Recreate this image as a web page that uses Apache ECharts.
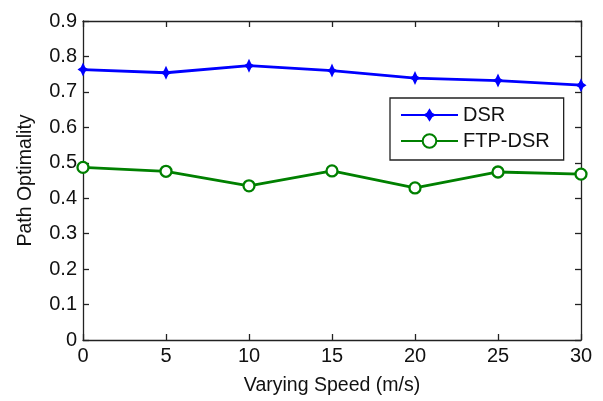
<!DOCTYPE html>
<html>
<head>
<meta charset="utf-8">
<script src="https://cdn.jsdelivr.net/npm/echarts@6/dist/echarts.min.js"></script>
<style>
html,body{margin:0;padding:0;background:#fff;}
#chart{width:603px;height:401px;}
</style>
</head>
<body>
<div id="chart"></div>
<script>
// Speeds (m/s) on the x axis
const speeds = [0, 5, 10, 15, 20, 25, 30];
// Path optimality per protocol
const dsr = [0.763, 0.754, 0.774, 0.760, 0.739, 0.732, 0.719];
const ftpDsr = [0.487, 0.476, 0.435, 0.477, 0.429, 0.474, 0.468];
const seriesNames = ['DSR', 'FTP-DSR'];

const font = 'Liberation Sans, Arial, sans-serif';
const star = 'path://M0,-10 L3.2,-3.2 L8,0 L3.2,3.2 L0,10 L-3.2,3.2 L-8,0 L-3.2,-3.2 Z';

const pairs = ys => speeds.map((x, i) => [x, ys[i]]);

const chart = echarts.init(document.getElementById('chart'));
const axisLine = { show: true, onZero: false, lineStyle: { color: '#222', width: 1.3 } };
const tickIn = { show: true, inside: true, length: 6, lineStyle: { color: '#222', width: 1.3 } };

chart.setOption({
  animation: false,
  backgroundColor: '#fff',
  grid: { left: 83, top: 21, right: 22, bottom: 59 },
  legend: {
    orient: 'vertical',
    left: 390,
    top: 98,
    padding: [7, 14, 9, 10],
    borderColor: '#222',
    borderWidth: 1.3,
    backgroundColor: '#fff',
    itemWidth: 57,
    itemHeight: 17,
    itemGap: 6,
    textStyle: { fontFamily: font, fontSize: 20, color: '#111' },
    data: seriesNames
  },
  xAxis: [{
    type: 'value', min: 0, max: 30, interval: 5,
    name: 'Varying Speed (m/s)', nameLocation: 'middle', nameGap: 36,
    nameTextStyle: { fontFamily: font, fontSize: 19.5, color: '#111' },
    axisLine, axisTick: tickIn,
    axisLabel: { fontFamily: font, fontSize: 20, color: '#111', margin: 6 },
    splitLine: { show: false }
  }, {
    type: 'value', position: 'top', min: 0, max: 30, interval: 5,
    axisLine, axisTick: tickIn, axisLabel: { show: false }, splitLine: { show: false }
  }],
  yAxis: [{
    type: 'value', min: 0, max: 0.9, interval: 0.1,
    name: 'Path Optimality', nameLocation: 'middle', nameGap: 47,
    nameTextStyle: { fontFamily: font, fontSize: 19.5, color: '#111' },
    axisLine, axisTick: tickIn,
    axisLabel: {
      fontFamily: font, fontSize: 20, color: '#111', margin: 6,
      formatter: v => (v === 0 ? '0' : v.toFixed(1))
    },
    splitLine: { show: false }
  }, {
    type: 'value', position: 'right', min: 0, max: 0.9, interval: 0.1,
    axisLine, axisTick: tickIn, axisLabel: { show: false }, splitLine: { show: false }
  }],
  series: [{
    name: seriesNames[0],
    type: 'line',
    data: pairs(dsr),
    symbol: star,
    symbolSize: [11, 14],
    showAllSymbol: true,
    itemStyle: { color: '#0000ff' },
    lineStyle: { color: '#0000ff', width: 2.8 }
  }, {
    name: seriesNames[1],
    type: 'line',
    data: pairs(ftpDsr),
    symbol: 'circle',
    symbolSize: 11,
    showAllSymbol: true,
    itemStyle: { color: '#fff', borderColor: '#008000', borderWidth: 2.3 },
    lineStyle: { color: '#008000', width: 2.8 }
  }, {
    // keeps the top and right frame axes alive
    name: 'frame',
    type: 'line',
    xAxisIndex: 1,
    yAxisIndex: 1,
    data: [],
    silent: true
  }]
});
</script>
</body>
</html>
